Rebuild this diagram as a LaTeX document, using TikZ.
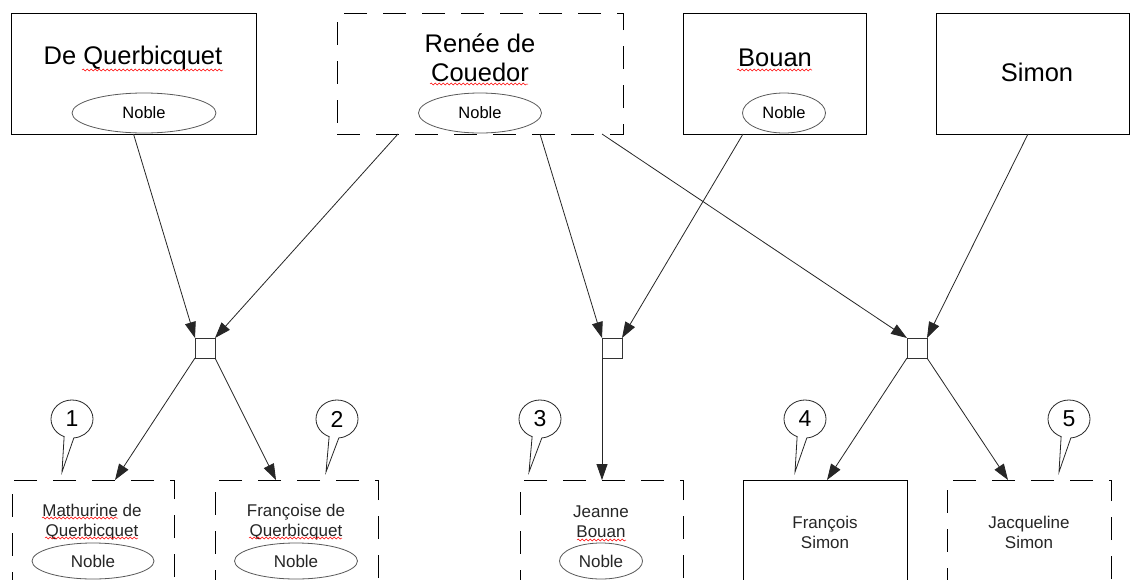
\documentclass[tikz,border=0pt]{standalone}
\usepackage{fontspec}
\setmainfont{Liberation Sans}
\usetikzlibrary{arrows.meta,calc,decorations.pathmorphing,shapes.geometric}
\tikzset{
  pbox/.style={draw=black, line width=0.8pt, inner sep=0pt, outer sep=0pt, anchor=north west, minimum height=#1},
  pbox/.default=121pt,
  dbox/.style={pbox=#1, dash pattern=on 23pt off 16pt},
  dbox/.default=121pt,
  noble/.style={ellipse, draw=black!65, line width=0.8pt, inner sep=0pt, outer sep=0pt, minimum height=40pt},
  bigtxt/.style={font=\fontsize{25.5}{29}\selectfont, align=center, inner sep=0pt},
  smtxt/.style={font=\fontsize{17}{20}\selectfont, align=center, inner sep=0pt, text=black!85},
  nobtop/.style={font=\fontsize{16.5}{18}\selectfont},
  nobbot/.style={font=\fontsize{17}{20}\selectfont, text=black!85},
  junc/.style={draw=black!80, line width=0.8pt, minimum size=20pt, inner sep=0pt, outer sep=0pt},
  conn/.style={draw=black!85, line width=0.8pt, -{Triangle[length=16pt,width=11pt]}},
  sq/.style={draw=red, line width=0.5pt, decorate, decoration={snake, amplitude=1pt, segment length=4pt}},
  callnum/.style={font=\fontsize{23}{26}\selectfont, inner sep=0pt},
  callout/.style={draw=black!85, line width=0.8pt, fill=white}
}
\newcommand{\mycallout}[4]{% name, center, tip, number
  \node[callnum] (#1) at (#2) {#4};
  \coordinate (#1tip) at (#3);
  \draw[callout] ($(#1.center)+(-85:21pt and 19pt)$) -- (#1tip) -- ($(#1.center)+(-112:21pt and 19pt)$)
     arc[start angle=-112, end angle=-445, x radius=21pt, y radius=19pt] -- cycle;
  \node[callnum] at (#2) {#4};
}
\begin{document}
\begin{tikzpicture}[x=1pt,y=1pt]
\useasboundingbox (0,0) rectangle (1130,-579);
\clip (0,0) rectangle (1130,-579);
\fill[white] (0,0) rectangle (1130,-579);

% top boxes
\node[pbox, minimum width=245pt] (t1) at (11,-13) {};
\node[dbox, minimum width=286pt] (t2) at (337,-13) {};
\node[pbox, minimum width=183pt] (t3) at (683,-13) {};
\node[pbox, minimum width=193pt] (t4) at (936,-13) {};

\node[bigtxt] (t1n) at (133,-58) {De Querbicquet};
\node[bigtxt] (t2n) at (480,-57.5) {Renée de\\Couedor};
\node[bigtxt] (t3n) at (775,-58) {Bouan};
\node[bigtxt] (t4n) at (1037,-72) {Simon};

\node[noble, minimum width=144pt, nobtop] (t1e) at (144,-113) {Noble};
\node[noble, minimum width=123pt, nobtop] (t2e) at (480,-113) {Noble};
\node[noble, minimum width=83pt, nobtop] (t3e) at (784,-113) {Noble};

% bottom boxes
\node[dbox=130pt, minimum width=162pt] (b1) at (12,-480) {};
\node[dbox=130pt, minimum width=163pt] (b2) at (215,-480) {};
\node[dbox=130pt, minimum width=163pt] (b3) at (520,-480) {};
\node[pbox=130pt, minimum width=164pt] (b4) at (743,-480) {};
\node[dbox=130pt, minimum width=164pt] (b5) at (947,-480) {};

\node[smtxt] (b1n) at (92,-522) {Mathurine de\\Querbicquet};
\node[smtxt] (b2n) at (296,-522) {Françoise de\\Querbicquet};
\node[smtxt] (b3n) at (601,-522) {Jeanne\\Bouan};
\node[smtxt] (b4n) at (825,-532) {François\\Simon};
\node[smtxt] (b5n) at (1029,-532) {Jacqueline\\Simon};

\node[noble, minimum width=122pt, minimum height=36pt, nobbot] (b1e) at (93,-561) {Noble};
\node[noble, minimum width=123pt, minimum height=36pt, nobbot] (b2e) at (296,-561) {Noble};
\node[noble, minimum width=83pt, minimum height=36pt, nobbot] (b3e) at (601,-561) {Noble};

% spell-check squiggles
\draw[sq] (82,-70) -- (223,-70);
\draw[sq] (430,-84) -- (528,-84);
\draw[sq] (737,-70) -- (812,-70);
\draw[sq] (42,-518) -- (118,-518);
\draw[sq] (45,-538) -- (138,-538);
\draw[sq] (249,-538) -- (342,-538);
\draw[sq] (577,-540) -- (626,-540);

% junctions
\node[junc] (j1) at (205,-348) {};
\node[junc] (j2) at (612,-348) {};
\node[junc] (j3) at (917,-348) {};

% connectors
\draw[conn] (t1.south) -- (j1.north west);
\draw[conn] ($(t2.south)+(-82,0)$) -- (j1.north east);
\draw[conn] ($(t2.south)+(60,0)$) -- (j2.north west);
\draw[conn] ($(t3.south)+(-31.5,0)$) -- (j2.north east);
\draw[conn] ($(t2.south)+(122,0)$) -- (j3.north west);
\draw[conn] ($(t4.south)+(-4.5,0)$) -- (j3.north east);
\draw[conn] (j1.south west) -- ($(b1.north)+(22,0)$);
\draw[conn] (j1.south east) -- ($(b2.north)+(-20.5,0)$);
\draw[conn] (j2.south west) -- (j2.south west |- b3.north);
\draw[conn] (j3.south west) -- ($(b4.north)+(2,0)$);
\draw[conn] (j3.south east) -- ($(b5.north)+(-21,0)$);

% callouts
\mycallout{c1}{72,-419}{62,-472}{1}
\mycallout{c2}{337,-419}{326,-472}{2}
\mycallout{c3}{540,-419}{529,-472}{3}
\mycallout{c4}{805,-419}{795,-472}{4}
\mycallout{c5}{1069,-419}{1059,-472}{5}
\end{tikzpicture}
\end{document}
